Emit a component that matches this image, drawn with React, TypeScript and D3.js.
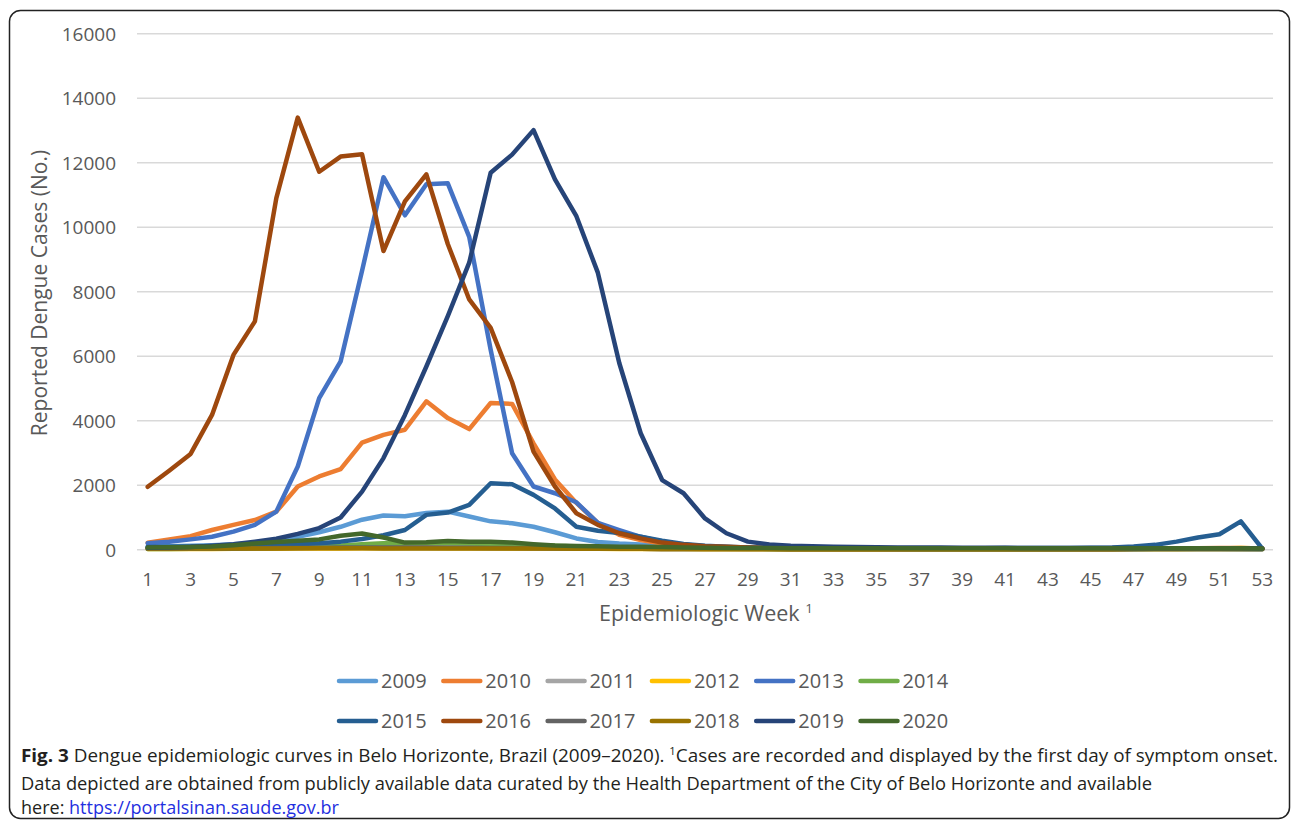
import React, { useRef, useEffect } from "react";
import * as d3 from "d3";

// epidemiologic weeks 1..53
const weeks = d3.range(1, 54);
const yTicks = [0, 2000, 4000, 6000, 8000, 10000, 12000, 14000, 16000];
const xTickWeeks = weeks.filter((w) => w % 2 === 1);

const years = ["2009", "2010", "2011", "2012", "2013", "2014", "2015", "2016", "2017", "2018", "2019", "2020"];
const colors = ["#5B9BD5", "#ED7D31", "#A5A5A5", "#FFC000", "#4472C4", "#70AD47", "#255E91", "#9E480E", "#636363", "#997300", "#264478", "#43682B"];

const cases2009 = [100, 110, 120, 140, 170, 210, 280, 400, 540, 710,
  930, 1060, 1040, 1140, 1180, 1030, 880, 820, 710, 540,
  350, 240, 190, 160, 120, 100, 80, 60, 50, 40,
  35, 30, 30, 28, 25, 25, 22, 20, 20, 20,
  18, 18, 20, 20, 22, 25, 25, 28, 30, 30,
  28, 25, 20];
const cases2010 = [220, 320, 420, 610, 770, 920, 1180, 1960, 2270, 2500,
  3320, 3560, 3720, 4600, 4080, 3740, 4550, 4520, 3300, 2180,
  1450, 830, 460, 300, 190, 130, 90, 70, 50, 40,
  35, 30, 30, 28, 25, 25, 25, 22, 22, 22,
  20, 20, 22, 22, 25, 28, 30, 35, 40, 45,
  50, 50, 40];
const cases2011 = [30, 30, 35, 35, 40, 45, 50, 55, 60, 70,
  80, 85, 90, 90, 85, 80, 70, 60, 50, 45,
  40, 35, 30, 28, 25, 22, 20, 18, 15, 15,
  12, 12, 10, 10, 10, 10, 10, 10, 10, 10,
  10, 10, 10, 12, 12, 15, 15, 18, 20, 20,
  22, 22, 20];
const cases2012 = [20, 22, 25, 25, 28, 30, 32, 35, 38, 40,
  45, 48, 50, 50, 48, 45, 42, 40, 38, 35,
  30, 28, 25, 22, 20, 18, 15, 15, 12, 12,
  10, 10, 10, 10, 10, 10, 10, 10, 10, 10,
  10, 10, 12, 12, 15, 15, 18, 20, 25, 30,
  40, 50, 35];
const cases2013 = [200, 250, 320, 400, 560, 770, 1180, 2580, 4700, 5840,
  8650, 11550, 10370, 11330, 11360, 9700, 6200, 2990, 1960, 1750,
  1470, 830, 610, 400, 250, 160, 110, 80, 60, 50,
  40, 35, 30, 30, 28, 25, 25, 22, 22, 20,
  20, 20, 20, 22, 22, 25, 25, 28, 30, 30,
  30, 28, 25];
const cases2014 = [20, 25, 30, 35, 40, 50, 60, 80, 100, 130,
  170, 200, 190, 200, 200, 190, 180, 160, 140, 120,
  100, 80, 70, 60, 50, 40, 35, 30, 28, 25,
  22, 20, 20, 18, 18, 18, 15, 15, 15, 15,
  15, 15, 15, 15, 18, 18, 20, 20, 22, 22,
  22, 20, 18];
const cases2015 = [80, 90, 100, 110, 120, 130, 150, 170, 200, 250,
  330, 450, 610, 1080, 1150, 1390, 2060, 2030, 1700, 1280,
  710, 590, 520, 400, 280, 180, 120, 90, 70, 60,
  55, 50, 50, 48, 45, 45, 45, 45, 45, 48,
  50, 50, 52, 55, 60, 70, 100, 150, 250, 380,
  480, 880, 30];
const cases2016 = [1950, 2450, 2970, 4180, 6040, 7080, 10900, 13400, 11720, 12190,
  12260, 9260, 10800, 11640, 9480, 7760, 6880, 5200, 3040, 1960,
  1130, 770, 510, 350, 220, 150, 110, 90, 70, 60,
  50, 45, 40, 40, 38, 35, 35, 32, 30, 30,
  30, 30, 30, 30, 30, 32, 32, 35, 35, 35,
  35, 32, 30];
const cases2017 = [30, 32, 35, 38, 40, 45, 50, 55, 60, 65,
  70, 70, 68, 65, 62, 60, 55, 50, 45, 40,
  35, 32, 30, 28, 25, 22, 20, 20, 18, 18,
  15, 15, 15, 15, 15, 15, 15, 15, 15, 15,
  15, 15, 15, 15, 15, 15, 18, 18, 20, 20,
  20, 20, 18];
const cases2018 = [35, 35, 38, 38, 40, 40, 40, 42, 42, 42,
  42, 40, 40, 40, 40, 38, 38, 36, 35, 35,
  32, 30, 28, 26, 25, 22, 20, 20, 18, 18,
  16, 16, 15, 15, 15, 15, 15, 15, 15, 15,
  15, 15, 15, 15, 16, 16, 18, 18, 20, 20,
  20, 20, 18];
const cases2019 = [60, 70, 80, 120, 170, 250, 340, 490, 670, 1000,
  1800, 2840, 4180, 5680, 7240, 8900, 11690, 12250, 13010, 11480,
  10340, 8590, 5790, 3610, 2160, 1750, 970, 510, 250, 160,
  120, 110, 90, 80, 75, 70, 70, 65, 62, 60,
  58, 55, 55, 52, 50, 50, 48, 48, 45, 45,
  45, 42, 40];
const cases2020 = [70, 75, 85, 100, 140, 190, 240, 280, 320, 430,
  500, 380, 220, 230, 270, 250, 250, 220, 170, 130,
  115, 110, 95, 90, 80, 70, 60, 55, 50, 50,
  48, 48, 45, 45, 45, 45, 45, 45, 45, 45,
  45, 45, 45, 45, 45, 45, 45, 45, 45, 45,
  42, 42, 40];

const allCases = [cases2009, cases2010, cases2011, cases2012, cases2013, cases2014,
  cases2015, cases2016, cases2017, cases2018, cases2019, cases2020];

const FONT = "'Open Sans', sans-serif";
const AXIS_GREY = "#595959";

function App() {
  const svgRef = useRef<SVGSVGElement>(null);

  useEffect(() => {
    const svg = d3.select(svgRef.current);
    svg.selectAll("*").remove();

    // outer frame
    svg.append("rect")
      .attr("x", 9.5).attr("y", 10.5)
      .attr("width", 1280).attr("height", 808)
      .attr("rx", 11)
      .attr("fill", "white")
      .attr("stroke", "#222")
      .attr("stroke-width", 1.5);

    const xScale = d3.scalePoint<number>()
      .domain(weeks)
      .range([137, 1273])
      .padding(0.5);

    const yScale = d3.scaleLinear()
      .domain([0, 16000])
      .range([549.7, 33.7]);

    // gridlines
    svg.append("g")
      .selectAll("line")
      .data(yTicks)
      .join("line")
      .attr("x1", 137).attr("x2", 1273)
      .attr("y1", (d) => yScale(d)).attr("y2", (d) => yScale(d))
      .attr("stroke", "#D9D9D9")
      .attr("stroke-width", 1.5);

    // y tick labels
    svg.append("g")
      .selectAll("text")
      .data(yTicks)
      .join("text")
      .attr("x", 116)
      .attr("y", (d) => yScale(d))
      .attr("dy", "0.36em")
      .attr("text-anchor", "end")
      .attr("font-family", FONT)
      .attr("font-size", 19)
      .attr("fill", AXIS_GREY)
      .text((d) => String(d));

    // x tick labels
    svg.append("g")
      .selectAll("text")
      .data(xTickWeeks)
      .join("text")
      .attr("x", (d) => xScale(d)!)
      .attr("y", 586)
      .attr("text-anchor", "middle")
      .attr("font-family", FONT)
      .attr("font-size", 19)
      .attr("fill", AXIS_GREY)
      .text((d) => String(d));

    // axis titles
    svg.append("text")
      .attr("transform", "translate(40,293) rotate(-90)")
      .attr("text-anchor", "middle")
      .attr("dy", "0.35em")
      .attr("font-family", FONT)
      .attr("font-size", 21)
      .attr("fill", AXIS_GREY)
      .text("Reported Dengue Cases (No.)");

    const xt = svg.append("text")
      .attr("x", 706).attr("y", 621)
      .attr("text-anchor", "middle")
      .attr("font-family", FONT)
      .attr("font-size", 21.5)
      .attr("fill", AXIS_GREY);
    xt.append("tspan").text("Epidemiologic Week ");
    xt.append("tspan").attr("dy", -8).attr("font-size", 13.5).text("1");

    // series lines, drawn in legend order so 2020 sits on top
    const line = d3.line<number>()
      .x((d, i) => xScale(weeks[i])!)
      .y((d) => yScale(d));

    svg.append("g")
      .selectAll("path")
      .data(allCases)
      .join("path")
      .attr("d", (d) => line(d))
      .attr("fill", "none")
      .attr("stroke", (d, i) => colors[i])
      .attr("stroke-width", 4.5)
      .attr("stroke-linejoin", "round")
      .attr("stroke-linecap", "round");

    // legend
    const legend = svg.append("g")
      .selectAll("g")
      .data(years)
      .join("g")
      .attr("transform", (d, i) => `translate(${339 + (i % 6) * 104.3},${i < 6 ? 681 : 721})`);
    legend.append("line")
      .attr("x1", 0).attr("x2", 37)
      .attr("stroke", (d, i) => colors[i])
      .attr("stroke-width", 4.5)
      .attr("stroke-linecap", "round");
    legend.append("text")
      .attr("x", 42)
      .attr("dy", "0.36em")
      .attr("font-family", FONT)
      .attr("font-size", 20)
      .attr("fill", AXIS_GREY)
      .text((d) => d);

    // caption
    const cap1 = svg.append("text")
      .attr("x", 21).attr("y", 762)
      .attr("font-family", FONT)
      .attr("font-size", 18.5)
      .attr("fill", "#231F20")
      .attr("textLength", 1257)
      .attr("lengthAdjust", "spacingAndGlyphs");
    cap1.append("tspan").attr("font-weight", "bold").text("Fig. 3");
    cap1.append("tspan").text(" Dengue epidemiologic curves in Belo Horizonte, Brazil (2009\u20132020). ");
    cap1.append("tspan").attr("dy", -7).attr("font-size", 11).text("1");
    cap1.append("tspan").attr("dy", 7).text("Cases are recorded and displayed by the first day of symptom onset.");

    svg.append("text")
      .attr("x", 21).attr("y", 790)
      .attr("font-family", FONT)
      .attr("font-size", 18.5)
      .attr("fill", "#231F20")
      .attr("textLength", 1131)
      .attr("lengthAdjust", "spacingAndGlyphs")
      .text("Data depicted are obtained from publicly available data curated by the Health Department of the City of Belo Horizonte and available");

    const cap3 = svg.append("text")
      .attr("x", 21).attr("y", 814)
      .attr("font-family", FONT)
      .attr("font-size", 18.5)
      .attr("fill", "#231F20")
      .attr("textLength", 318)
      .attr("lengthAdjust", "spacingAndGlyphs");
    cap3.append("tspan").text("here: ");
    cap3.append("tspan").attr("fill", "#1F2FE0").text("https://portalsinan.saude.gov.br");
  }, []);

  return (
    <svg
      ref={svgRef}
      width={1293}
      height={826}
      style={{ position: "absolute", left: 0, top: 0, display: "block" }}
    />
  );
}

export default App;
